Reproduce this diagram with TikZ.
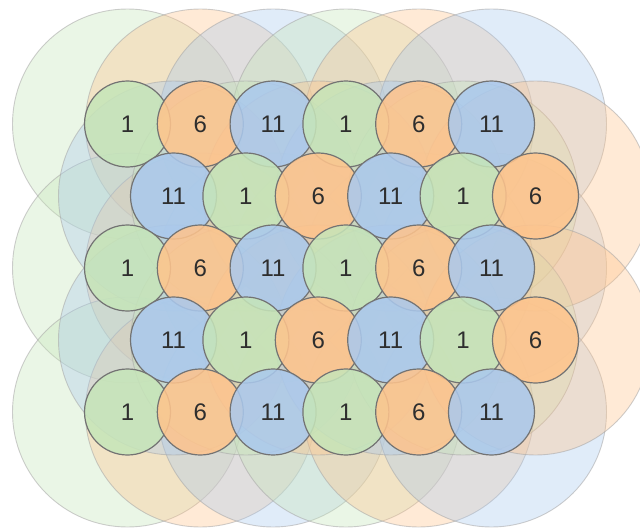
\documentclass[tikz,border=0pt]{standalone}
\usepackage{fontspec}
\setmainfont{Liberation Sans}
\definecolor{cg}{HTML}{C6E5B9}
\definecolor{co}{HTML}{FFC48C}
\definecolor{cb}{HTML}{AAC9EE}
\definecolor{txt}{HTML}{2E2E2E}
\tikzset{
  bigc/.style={circle, minimum size=230pt, inner sep=0pt, draw=gray!70, line width=0.9pt, draw opacity=0.55, fill opacity=0.36},
  smallc/.style={circle, minimum size=86pt, inner sep=0pt, draw=gray!90!black, line width=1.2pt, fill opacity=0.86, text opacity=1, text=txt, font=\fontsize{24}{24}\selectfont},
}
\begin{document}
\begin{tikzpicture}[x=1pt,y=-1pt]
\useasboundingbox (0,0) rectangle (640,530);
\begin{scope}
\clip (0,0) rectangle (640,530);
% big circles
\foreach \r in {0,2,4}{
  \foreach \c/\col in {0/cg,1/co,2/cb,3/cg,4/co,5/cb}{
    \node[bigc, fill=\col] (B\r\c) at ({127.5+72.8*\c},{124+72*\r}) {};
  }
}
\foreach \r in {1,3}{
  \foreach \c/\col in {0/cb,1/cg,2/co,3/cb,4/cg,5/co}{
    \node[bigc, fill=\col] (B\r\c) at ({173.5+72.4*\c},{124+72*\r}) {};
  }
}
% small circles
\foreach \r in {0,...,4}{
  \pgfmathtruncatemacro{\odd}{mod(\r,2)}
  \ifnum\odd=0
    \foreach \c/\col/\lab in {0/cg/1,1/co/6,2/cb/11,3/cg/1,4/co/6,5/cb/11}{
      \node[smallc, fill=\col] (S\r\c) at ({127.5+72.8*\c},{124+72*\r}) {\lab};
    }
  \else
    \foreach \c/\col/\lab in {0/cb/11,1/cg/1,2/co/6,3/cb/11,4/cg/1,5/co/6}{
      \node[smallc, fill=\col] (S\r\c) at ({173.5+72.4*\c},{124+72*\r}) {\lab};
    }
  \fi
}
\end{scope}
\end{tikzpicture}
\end{document}
